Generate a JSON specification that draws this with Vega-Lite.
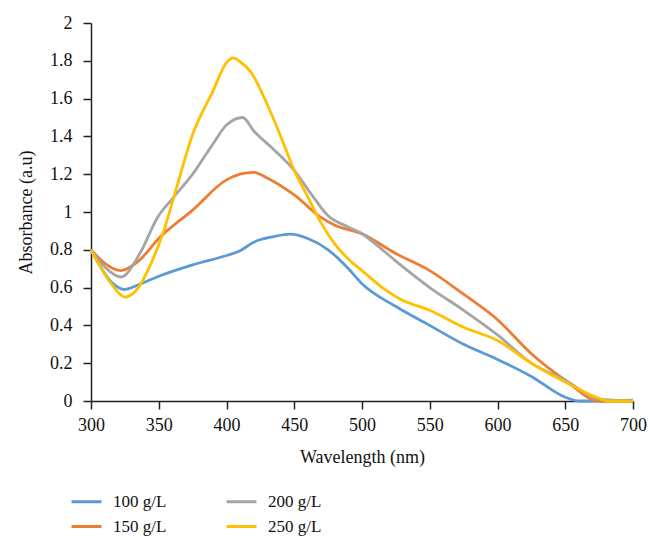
{
  "$schema": "https://vega.github.io/schema/vega-lite/v6.json",
  "width": 542,
  "height": 378,
  "autosize": "none",
  "padding": {"left": 91, "top": 23, "right": 29, "bottom": 152},
  "background": "white",
  "config": {
    "font": "Liberation Serif",
    "view": {"stroke": null},
    "axis": {"grid": false, "domainColor": "#222", "tickColor": "#222", "labelColor": "#111", "titleColor": "#111", "labelFont": "Liberation Serif", "titleFont": "Liberation Serif", "labelFontSize": 18, "titleFontSize": 18, "titleFontWeight": "normal", "tickSize": 8, "domainWidth": 1.5, "tickWidth": 1.5, "labelFlush": false}
  },
  "data": {"values": [
    {"w":300,"a":0.8,"s":"100 g/L"},{"w":315,"a":0.63,"s":"100 g/L"},{"w":325,"a":0.59,"s":"100 g/L"},{"w":335,"a":0.615,"s":"100 g/L"},{"w":350,"a":0.66,"s":"100 g/L"},{"w":375,"a":0.72,"s":"100 g/L"},{"w":400,"a":0.77,"s":"100 g/L"},{"w":410,"a":0.795,"s":"100 g/L"},{"w":420,"a":0.84,"s":"100 g/L"},{"w":435,"a":0.87,"s":"100 g/L"},{"w":447,"a":0.883,"s":"100 g/L"},{"w":460,"a":0.86,"s":"100 g/L"},{"w":475,"a":0.8,"s":"100 g/L"},{"w":490,"a":0.7,"s":"100 g/L"},{"w":500,"a":0.62,"s":"100 g/L"},{"w":525,"a":0.5,"s":"100 g/L"},{"w":550,"a":0.4,"s":"100 g/L"},{"w":575,"a":0.3,"s":"100 g/L"},{"w":600,"a":0.22,"s":"100 g/L"},{"w":625,"a":0.13,"s":"100 g/L"},{"w":650,"a":0.02,"s":"100 g/L"},{"w":660,"a":0.0,"s":"100 g/L"},{"w":700,"a":0.005,"s":"100 g/L"},
    {"w":300,"a":0.8,"s":"150 g/L"},{"w":310,"a":0.73,"s":"150 g/L"},{"w":322,"a":0.69,"s":"150 g/L"},{"w":335,"a":0.74,"s":"150 g/L"},{"w":350,"a":0.86,"s":"150 g/L"},{"w":375,"a":1.01,"s":"150 g/L"},{"w":400,"a":1.17,"s":"150 g/L"},{"w":410,"a":1.2,"s":"150 g/L"},{"w":420,"a":1.21,"s":"150 g/L"},{"w":430,"a":1.18,"s":"150 g/L"},{"w":450,"a":1.09,"s":"150 g/L"},{"w":470,"a":0.97,"s":"150 g/L"},{"w":480,"a":0.93,"s":"150 g/L"},{"w":500,"a":0.885,"s":"150 g/L"},{"w":525,"a":0.78,"s":"150 g/L"},{"w":550,"a":0.69,"s":"150 g/L"},{"w":575,"a":0.565,"s":"150 g/L"},{"w":600,"a":0.43,"s":"150 g/L"},{"w":625,"a":0.25,"s":"150 g/L"},{"w":650,"a":0.11,"s":"150 g/L"},{"w":675,"a":0.0,"s":"150 g/L"},{"w":700,"a":0.0,"s":"150 g/L"},
    {"w":300,"a":0.8,"s":"200 g/L"},{"w":310,"a":0.71,"s":"200 g/L"},{"w":322,"a":0.656,"s":"200 g/L"},{"w":336,"a":0.78,"s":"200 g/L"},{"w":349,"a":0.97,"s":"200 g/L"},{"w":360,"a":1.07,"s":"200 g/L"},{"w":375,"a":1.2,"s":"200 g/L"},{"w":390,"a":1.36,"s":"200 g/L"},{"w":400,"a":1.46,"s":"200 g/L"},{"w":412,"a":1.5,"s":"200 g/L"},{"w":420,"a":1.43,"s":"200 g/L"},{"w":435,"a":1.33,"s":"200 g/L"},{"w":450,"a":1.22,"s":"200 g/L"},{"w":462,"a":1.1,"s":"200 g/L"},{"w":475,"a":0.98,"s":"200 g/L"},{"w":490,"a":0.92,"s":"200 g/L"},{"w":500,"a":0.885,"s":"200 g/L"},{"w":510,"a":0.83,"s":"200 g/L"},{"w":525,"a":0.74,"s":"200 g/L"},{"w":550,"a":0.6,"s":"200 g/L"},{"w":575,"a":0.48,"s":"200 g/L"},{"w":600,"a":0.35,"s":"200 g/L"},{"w":625,"a":0.2,"s":"200 g/L"},{"w":650,"a":0.11,"s":"200 g/L"},{"w":675,"a":0.01,"s":"200 g/L"},{"w":700,"a":0.0,"s":"200 g/L"},
    {"w":300,"a":0.8,"s":"250 g/L"},{"w":315,"a":0.62,"s":"250 g/L"},{"w":325,"a":0.55,"s":"250 g/L"},{"w":335,"a":0.6,"s":"250 g/L"},{"w":345,"a":0.74,"s":"250 g/L"},{"w":353,"a":0.885,"s":"250 g/L"},{"w":362,"a":1.1,"s":"250 g/L"},{"w":375,"a":1.41,"s":"250 g/L"},{"w":390,"a":1.64,"s":"250 g/L"},{"w":400,"a":1.79,"s":"250 g/L"},{"w":405,"a":1.815,"s":"250 g/L"},{"w":410,"a":1.795,"s":"250 g/L"},{"w":418,"a":1.74,"s":"250 g/L"},{"w":430,"a":1.57,"s":"250 g/L"},{"w":440,"a":1.4,"s":"250 g/L"},{"w":450,"a":1.22,"s":"250 g/L"},{"w":460,"a":1.08,"s":"250 g/L"},{"w":470,"a":0.94,"s":"250 g/L"},{"w":480,"a":0.83,"s":"250 g/L"},{"w":490,"a":0.75,"s":"250 g/L"},{"w":500,"a":0.69,"s":"250 g/L"},{"w":515,"a":0.6,"s":"250 g/L"},{"w":528,"a":0.54,"s":"250 g/L"},{"w":550,"a":0.48,"s":"250 g/L"},{"w":575,"a":0.39,"s":"250 g/L"},{"w":600,"a":0.32,"s":"250 g/L"},{"w":625,"a":0.2,"s":"250 g/L"},{"w":650,"a":0.1,"s":"250 g/L"},{"w":673,"a":0.02,"s":"250 g/L"},{"w":682,"a":0.0,"s":"250 g/L"},{"w":700,"a":0.0,"s":"250 g/L"}
  ]},
  "mark": {"type": "line", "interpolate": "monotone", "strokeWidth": 2.8},
  "encoding": {
    "x": {"field": "w", "type": "quantitative", "scale": {"domain": [300, 700], "nice": false}, "axis": {"values": [300,350,400,450,500,550,600,650,700], "title": "Wavelength (nm)", "titlePadding": 14, "labelPadding": 7}},
    "y": {"field": "a", "type": "quantitative", "scale": {"domain": [0, 2], "nice": false}, "axis": {"values": [0,0.2,0.4,0.6,0.8,1,1.2,1.4,1.6,1.8,2], "format": "~g", "title": "Absorbance (a.u)", "titlePadding": 14, "labelPadding": 11}},
    "color": {"field": "s", "type": "nominal", "scale": {"domain": ["100 g/L", "200 g/L", "150 g/L", "250 g/L"], "range": ["#5B9BD5", "#A5A5A5", "#ED7D31", "#FFC000"]},
      "legend": {"title": null, "orient": "none", "legendX": -21, "legendY": 462, "columns": 2, "direction": "horizontal", "symbolType": "stroke", "symbolSize": 900, "symbolStrokeWidth": 3, "labelFontSize": 17, "labelFont": "Liberation Serif", "labelColor": "#111", "labelOffset": 10, "columnPadding": 53, "rowPadding": -0.5}
    }
  }
}
